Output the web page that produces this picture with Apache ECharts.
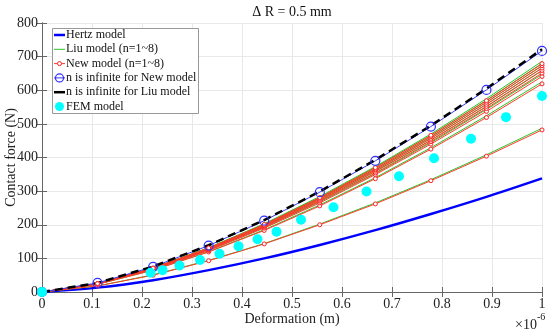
<!DOCTYPE html>
<html>
<head>
<meta charset="utf-8">
<script src="https://cdn.jsdelivr.net/npm/echarts@6/dist/echarts.min.js"></script>
<style>html,body{margin:0;padding:0;background:#fff;}#c{width:550px;height:333px;}</style>
</head>
<body>
<div id="c"></div>
<script>
// x in units of 1e-6 m
const xNodes = [0, 0.1111, 0.2222, 0.3333, 0.4444, 0.5556, 0.6667, 0.7778, 0.8889, 1];
const hertz = [0, 13, 35, 65, 100, 140, 184, 232, 283, 338];
const newInf = [0, 27, 75, 138, 212, 297, 390, 492, 601, 717];
const liuInf = [0, 27, 76, 139, 214, 299, 393, 495, 605, 722];
const newModel = [
  [0, 18, 50, 93, 143, 200, 262, 331, 404, 482],
  [0, 23, 65, 119, 183, 256, 337, 425, 519, 619],
  [0, 24, 67, 123, 190, 265, 349, 440, 537, 641],
  [0, 24, 68, 125, 193, 270, 354, 447, 546, 651],
  [0, 24, 69, 127, 195, 273, 359, 452, 552, 659],
  [0, 25, 70, 128, 197, 276, 363, 457, 558, 666],
  [0, 25, 71, 130, 199, 279, 366, 462, 564, 673],
  [0, 25, 71, 131, 201, 281, 370, 466, 569, 679]
];
const liuModel = [
  [0, 18, 51, 94, 144, 202, 265, 334, 408, 487],
  [0, 23, 65, 120, 185, 259, 340, 429, 524, 625],
  [0, 24, 68, 125, 192, 268, 352, 444, 543, 647],
  [0, 24, 69, 127, 195, 272, 358, 451, 551, 658],
  [0, 25, 70, 128, 197, 276, 362, 457, 558, 666],
  [0, 25, 70, 129, 199, 279, 366, 461, 564, 673],
  [0, 25, 71, 131, 201, 281, 370, 466, 570, 680],
  [0, 25, 72, 132, 203, 284, 373, 470, 575, 686]
];
const femX = [0, 0.217, 0.241, 0.275, 0.316, 0.355, 0.393, 0.431, 0.469, 0.518, 0.583, 0.649, 0.714, 0.784, 0.858, 0.928, 1.0];
const femY = [0, 57, 65, 79, 95, 114, 136, 157, 179, 215, 252, 299, 344, 398, 456, 520, 583];

const names = ['Hertz model', 'Liu model (n=1~8)', 'New model (n=1~8)', 'n is infinite for New model', 'n is infinite for Liu model', 'FEM model'];
const pair = arr => xNodes.map((x, i) => [x, arr[i]]);
const FONT = 'Liberation Serif';

const series = [];
series.push({name: names[0], type: 'line', data: pair(hertz), smooth: 0.3, symbol: 'none',
  lineStyle: {color: '#0000ff', width: 2.5}, itemStyle: {color: '#0000ff'}});
liuModel.forEach(a => series.push({name: names[1], type: 'line', data: pair(a), symbol: 'none',
  lineStyle: {color: '#2cc42c', width: 1}, itemStyle: {color: '#2cc42c'}}));
newModel.forEach(a => series.push({name: names[2], type: 'line', data: pair(a), symbol: 'circle', symbolSize: 4,
  lineStyle: {color: '#ff3b2b', width: 1}, itemStyle: {color: '#ffffff', borderColor: '#ff2020', borderWidth: 1}}));
series.push({name: names[3], type: 'line', data: pair(newInf), symbol: 'circle', symbolSize: 9,
  lineStyle: {color: '#3a3aff', width: 1}, itemStyle: {color: 'rgba(255,255,255,0)', borderColor: '#2f2fff', borderWidth: 1.2}});
series.push({name: names[4], type: 'line', data: pair(liuInf), symbol: 'none',
  lineStyle: {color: '#000000', width: 2.5, type: [8, 5]}, itemStyle: {color: '#000000'}});
series.push({name: names[5], type: 'scatter', data: femX.map((x, i) => [x, femY[i]]), symbol: 'circle', symbolSize: 10,
  itemStyle: {color: '#00ffff', opacity: 1}, z: 5});

const axisCommon = {
  axisLine: {show: true, lineStyle: {color: '#666', width: 1}},
  axisTick: {show: true, inside: true, length: 5, lineStyle: {color: '#666'}},
};

// hand-drawn legend (graphic) to mimic MATLAB legend box
const LX = 54, LY0 = 35, LDY = 14.3, TX = 66;
const legendGraphics = [
  {type: 'rect', z: 10, shape: {x: 52.5, y: 28.5, width: 146, height: 85},
    style: {fill: '#fff', stroke: '#999', lineWidth: 1}}
];
const iconLine = (i, color, w, dash) => ({type: 'line', z: 11, shape: {x1: LX, y1: LY0 + i * LDY, x2: LX + 11, y2: LY0 + i * LDY},
  style: {stroke: color, lineWidth: w, lineDash: dash || null}});
legendGraphics.push(iconLine(0, '#0000ff', 2.5));
legendGraphics.push(iconLine(1, '#2cc42c', 1));
legendGraphics.push(iconLine(2, '#ff3b2b', 1));
legendGraphics.push({type: 'circle', z: 11, shape: {cx: LX + 5.5, cy: LY0 + 2 * LDY, r: 2}, style: {fill: '#fff', stroke: '#ff2020', lineWidth: 1}});
legendGraphics.push(iconLine(3, '#3a3aff', 1));
legendGraphics.push({type: 'circle', z: 11, shape: {cx: LX + 5.5, cy: LY0 + 3 * LDY, r: 4}, style: {fill: 'none', stroke: '#2f2fff', lineWidth: 1.2}});
legendGraphics.push(iconLine(4, '#000000', 2.5));
legendGraphics.push({type: 'circle', z: 11, shape: {cx: LX + 5.5, cy: LY0 + 5 * LDY, r: 4.5}, style: {fill: '#00ffff'}});
names.forEach((n, i) => legendGraphics.push({type: 'text', z: 11, x: TX, y: LY0 + i * LDY,
  style: {text: n, fontFamily: FONT, fontSize: 12, fill: '#111', textAlign: 'left', textVerticalAlign: 'middle'}}));

const option = {
  animation: false,
  backgroundColor: '#fff',
  grid: {left: 42, right: 8, top: 23, bottom: 41, containLabel: false, outerBoundsMode: 'none'},
  xAxis: [
    Object.assign({type: 'value', min: 0, max: 1, interval: 0.1, position: 'bottom',
      axisLabel: {fontFamily: FONT, fontSize: 14, color: '#222', margin: 5},
      splitLine: {show: true, lineStyle: {color: '#e8e8e8', width: 1}},
      name: 'Deformation (m)', nameLocation: 'middle', nameGap: 20, nameMoveOverlap: false,
      nameTextStyle: {fontFamily: FONT, fontSize: 14, color: '#222'}}, axisCommon),
    Object.assign({type: 'value', min: 0, max: 1, interval: 0.1, position: 'top',
      axisLabel: {show: false}, splitLine: {show: false}}, axisCommon)
  ],
  yAxis: [
    Object.assign({type: 'value', min: 0, max: 800, interval: 100, position: 'left',
      axisLabel: {fontFamily: FONT, fontSize: 14, color: '#222', margin: 4},
      splitLine: {show: true, lineStyle: {color: '#e8e8e8', width: 1}},
      name: 'Contact force (N)', nameLocation: 'middle', nameGap: 24, nameRotate: 90, nameMoveOverlap: false,
      nameTextStyle: {fontFamily: FONT, fontSize: 14, color: '#222'}}, axisCommon),
    Object.assign({type: 'value', min: 0, max: 800, interval: 100, position: 'right',
      axisLabel: {show: false}, splitLine: {show: false}}, axisCommon)
  ],
  graphic: legendGraphics.concat([
    {type: 'text', x: 292, y: 12, style: {text: 'Δ R = 0.5 mm', fontFamily: FONT, fontSize: 14, fill: '#111',
      textAlign: 'center', textVerticalAlign: 'middle'}},
    {type: 'text', x: 537, y: 325, style: {text: '×10', fontFamily: FONT, fontSize: 14, fill: '#222',
      textAlign: 'right', textVerticalAlign: 'middle'}},
    {type: 'text', x: 537, y: 317, style: {text: '-6', fontFamily: FONT, fontSize: 10, fill: '#222',
      textAlign: 'left', textVerticalAlign: 'middle'}}
  ]),
  series: series
};
const chart = echarts.init(document.getElementById('c'), null, {renderer: 'canvas'});
chart.setOption(option);
</script>
</body>
</html>
